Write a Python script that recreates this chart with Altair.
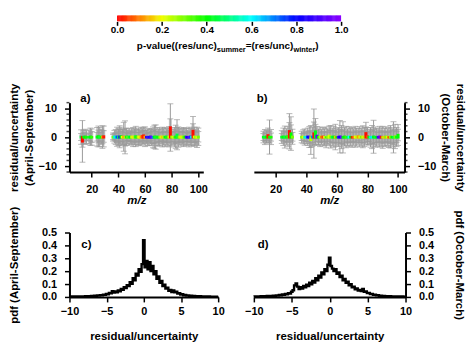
import altair as alt
import numpy as np
import pandas as pd

FONT = "Liberation Sans"

# ---------------- colour scale / colour bar ----------------
P_STOPS = [0.0, 0.1, 0.2, 0.4, 0.6, 0.8, 1.0]
P_COLORS = ["#ff0000", "#ff8000", "#f0ff00", "#00ff00", "#00ffff", "#0000ff", "#8c00ff"]
CB_TICKS = [0.0, 0.2, 0.4, 0.6, 0.8, 1.0]

MZ_TICKS = [20, 40, 60, 80, 100]
RES_TICKS = [-10, 0, 10]
RES_MINOR = [-12, -8, -6, -4, -2, 2, 4, 6, 8, 12]
PDF_X_TICKS = [-10, -5, 0, 5, 10]
PDF_Y_TICKS = [0.0, 0.1, 0.2, 0.3, 0.4, 0.5]

# ---------------- panel a (April-September) ----------------
mz_a = [12, 13, 14, 15, 16,
        18, 19, 20, 24, 25, 26, 27, 28, 29,
        36, 37, 38, 39, 40, 41, 42, 43, 44, 45, 46, 47, 48, 49, 50,
        51, 52, 53, 54, 55, 56, 57, 58, 59, 60, 61, 62, 63, 64, 65,
        66, 67, 68, 69, 70, 71, 72, 73, 74, 75, 76, 77, 78, 79, 80,
        81, 82, 83, 84, 85, 86, 87, 88, 89, 90, 91, 92, 93, 94, 95,
        96, 97, 98, 99, 100]
mean_a = [0.1, -1.4, 0.1, 0.2, 0.1,
          0.1, 0.2, 0.1, 0.2, 0.3, 0.1, 0.2, 0.1, 0.3,
          0.1, 0.2, 0.1, 0.2, 0.1, 0.2, 0.3, 0.1, 0.2, 0.0, 0.2, 0.1, 0.2, 0.1, 0.2,
          0.1, 0.2, 0.3, 0.1, 0.2, 0.1, 0.3, 0.4, 0.6, 0.2, 0.1, 0.0, 0.1, 0.2, 0.1,
          0.0, 0.2, 0.1, 0.2, 0.0, 0.1, 0.2, 0.1, 0.2, 0.1, 0.2, 0.1, 0.2, 3.4, 0.2,
          0.1, 0.0, 0.2, 0.9, 0.1, 0.2, 0.1, 0.2, 0.1, 0.2, 0.1, 0.0, 0.1, 0.2, 0.1,
          2.2, 0.2, 0.1, 0.0, 0.2]
p_a = [0.45, 0.01, 0.42, 0.40, 0.38,
       0.44, 0.40, 0.36, 0.42, 0.40, 0.46, 0.38, 0.12, 0.02,
       0.30, 0.55, 0.62, 0.75, 0.45, 0.85, 0.40, 0.20, 0.12, 0.25, 0.42, 0.30, 0.45, 0.40, 0.22,
       0.18, 0.26, 0.42, 0.35, 0.24, 0.20, 0.12, 0.05, 0.01, 0.15, 0.85, 0.92, 0.78, 0.88, 0.95,
       0.70, 0.40, 0.45, 0.38, 0.42, 0.30, 0.22, 0.15, 0.25, 0.40, 0.44, 0.36, 0.20, 0.01, 0.28,
       0.22, 0.30, 0.40, 0.45, 0.35, 0.25, 0.18, 0.24, 0.30, 0.40, 0.90, 0.82, 0.95, 0.75, 0.60,
       0.01, 0.22, 0.28, 0.20, 0.30]
err_a = [2.5, 7.2, 2.4, 2.6, 2.2,
         2.4, 3.0, 2.8, 3.2, 3.6, 3.3, 2.6, 3.9, 3.6,
         1.4, 2.2, 2.6, 3.3, 2.9, 3.8, 3.2, 2.7, 5.0, 5.7, 3.0, 2.4, 2.9, 2.2, 2.7,
         3.3, 2.8, 3.5, 2.6, 3.0, 2.5, 3.2, 2.7, 2.9, 3.4, 2.3, 2.8, 3.0, 2.5, 2.9,
         3.6, 4.0, 4.2, 3.2, 2.8, 3.1, 2.5, 3.4, 2.9, 3.3, 2.7, 3.0, 3.5, 8.2, 3.1,
         2.6, 3.3, 4.0, 5.2, 3.5, 2.8, 3.1, 2.6, 3.3, 2.9, 3.0, 2.5, 3.4, 2.8, 3.1,
         5.0, 3.3, 2.7, 3.5, 3.0]
inner_a = [1.2, 2.0, 1.5, 1.3, 1.0,
           1.2, 1.6, 1.9, 1.5, 2.2, 1.7, 1.4, 2.3, 2.0,
           0.9, 1.2, 1.5, 2.0, 1.3, 2.5, 1.8, 1.7, 2.6, 3.0, 1.5, 1.2, 1.8, 1.4, 1.6,
           2.0, 1.5, 2.2, 1.6, 1.5, 1.7, 2.0, 1.6, 1.8, 2.1, 1.3, 1.6, 1.8, 1.4, 2.0,
           2.2, 2.4, 2.0, 1.9, 1.5, 1.7, 1.4, 2.1, 1.6, 1.9, 1.5, 1.8, 2.2, 3.0, 1.8,
           1.6, 2.0, 2.3, 2.5, 2.0, 1.6, 1.9, 1.5, 2.1, 1.7, 1.6, 1.4, 2.0, 1.5, 1.8,
           2.5, 2.0, 1.6, 2.3, 1.8]

# ---------------- panel b (October-March) ----------------
mz_b = [12, 13, 14, 15, 16, 17,
        24, 25, 26, 27, 28, 29, 30, 31,
        37, 38, 39, 40, 41, 42, 43, 44, 45, 46, 47, 48, 49, 50,
        51, 52, 53, 54, 55, 56, 57, 58, 59, 60, 61, 62, 63, 64, 65,
        66, 67, 68, 69, 70, 71, 72, 73, 74, 75, 76, 77, 78, 79, 80,
        81, 82, 83, 84, 85, 86, 87, 88, 89, 90, 91, 92, 93, 94, 95,
        96, 97, 98, 99, 100]
mean_b = [0.1, 0.1, 0.2, 0.7, 0.1, 0.1,
          0.1, 0.2, 0.1, 0.2, 0.3, 2.1, 1.3, 0.2,
          0.1, 0.2, 0.1, 0.0, 0.2, 0.1, -0.9, 0.2, 1.3, 2.0, 0.5, 0.1, 0.2, 0.1,
          0.2, 0.1, 0.0, 0.2, 0.5, 0.2, 0.1, 0.2, 0.1, 0.0, 0.1, 0.2, 0.1, 0.0, 0.2,
          0.1, 0.0, 0.2, 0.1, 0.0, 0.1, 0.2, 0.1, 0.3, 0.2, 0.1, 0.2, 0.1, 1.4, 0.3,
          0.1, 0.0, 0.1, 0.2, 0.1, 0.0, 0.1, 0.2, 0.1, 0.0, 0.1, 0.2, 0.1, 0.0, 0.2,
          0.1, 0.0, 0.3, 0.1, 0.8]
p_b = [0.42, 0.45, 0.40, 0.02, 0.40, 0.38,
       0.44, 0.40, 0.46, 0.42, 0.35, 0.01, 0.40, 0.30,
       0.30, 0.22, 0.55, 0.62, 0.80, 0.85, 0.25, 0.70, 0.01, 0.42, 0.95, 0.40, 0.25, 0.10,
       0.05, 0.20, 0.35, 0.28, 0.22, 0.30, 0.45, 0.40, 0.15, 0.40, 0.90, 0.80, 0.95, 0.42, 0.40,
       0.35, 0.45, 0.60, 0.40, 0.02, 0.08, 0.20, 0.25, 0.12, 0.22, 0.30, 0.18, 0.26, 0.01, 0.05,
       0.42, 0.55, 0.62, 0.40, 0.45, 0.40, 0.90, 0.95, 0.02, 0.25, 0.15, 0.30, 0.22, 0.05, 0.28,
       0.40, 0.45, 0.30, 0.42, 0.40]
err_b = [2.0, 2.6, 2.2, 2.5, 5.9, 2.6,
         2.2, 3.0, 3.8, 2.8, 3.4, 6.1, 5.8, 2.6,
         2.0, 2.4, 2.8, 2.2, 3.0, 3.6, 5.0, 3.3, 8.5, 4.5, 3.2, 2.8, 3.4, 2.6,
         3.2, 2.9, 3.6, 2.7, 3.4, 3.9, 3.1, 3.6, 4.4, 3.0, 3.3, 5.6, 4.0, 5.4, 3.2,
         3.7, 2.9, 3.5, 3.0, 3.4, 2.8, 3.6, 3.1, 2.7, 3.5, 3.0, 3.8, 3.3, 3.8, 3.0,
         2.6, 3.4, 4.0, 5.7, 3.5, 3.1, 2.8, 3.6, 3.2, 3.8, 3.0, 3.4, 2.9, 3.5, 3.9,
         3.2, 5.4, 4.2, 3.3, 3.6]
inner_b = [1.2, 1.5, 1.3, 1.5, 2.0, 1.4,
           1.2, 1.7, 2.0, 1.6, 2.0, 3.0, 3.0, 1.5,
           1.2, 1.3, 1.6, 1.4, 1.8, 2.2, 2.6, 2.0, 4.0, 2.5, 2.0, 1.6, 2.0, 1.4,
           1.8, 1.7, 2.1, 1.5, 2.0, 2.2, 1.8, 2.0, 2.4, 1.7, 1.9, 2.5, 2.2, 2.6, 1.8,
           2.1, 1.6, 2.0, 1.7, 1.9, 1.5, 2.1, 1.8, 1.5, 2.0, 1.8, 2.2, 1.9, 2.2, 1.8,
           1.5, 2.0, 2.3, 2.6, 2.0, 1.8, 1.6, 2.1, 1.8, 2.2, 1.7, 2.0, 1.6, 2.0, 2.3,
           1.8, 2.5, 2.3, 1.9, 2.0]

# ---------------- panels c, d: pdf of residual/uncertainty ----------------
pdf_x = [round(v, 1) for v in np.linspace(-10, 10, 101)]
pdf_c = [0.002, 0.003, 0.002, 0.003, 0.002, 0.003, 0.002, 0.004, 0.003, 0.004,
         0.003, 0.005, 0.004, 0.006, 0.005, 0.007, 0.006, 0.009, 0.008, 0.011,
         0.010, 0.014, 0.012, 0.018, 0.016, 0.024, 0.020, 0.032, 0.028, 0.045,
         0.034, 0.042, 0.036, 0.050, 0.044, 0.062, 0.055, 0.075, 0.068, 0.092,
         0.085, 0.115, 0.102, 0.145, 0.130, 0.180, 0.165, 0.215, 0.195, 0.255,
         0.440, 0.230, 0.280, 0.215, 0.270, 0.200, 0.240, 0.175, 0.200, 0.140,
         0.160, 0.110, 0.125, 0.085, 0.095, 0.065, 0.072, 0.048, 0.055, 0.038,
         0.050, 0.035, 0.040, 0.026, 0.030, 0.018, 0.022, 0.013, 0.016, 0.010,
         0.012, 0.008, 0.009, 0.006, 0.007, 0.005, 0.006, 0.004, 0.005, 0.003,
         0.004, 0.003, 0.003, 0.002, 0.003, 0.002, 0.002, 0.002, 0.002, 0.001,
         0.002]
pdf_d = [0.003, 0.004, 0.003, 0.004, 0.004, 0.005, 0.004, 0.006, 0.005, 0.007,
         0.006, 0.008, 0.007, 0.010, 0.009, 0.012, 0.011, 0.015, 0.013, 0.019,
         0.017, 0.024, 0.021, 0.030, 0.027, 0.040, 0.052, 0.090, 0.105, 0.080,
         0.062, 0.075, 0.065, 0.085, 0.075, 0.095, 0.085, 0.110, 0.098, 0.125,
         0.112, 0.145, 0.130, 0.165, 0.150, 0.190, 0.175, 0.215, 0.200, 0.250,
         0.305, 0.240, 0.220, 0.200, 0.215, 0.180, 0.190, 0.155, 0.165, 0.130,
         0.140, 0.110, 0.118, 0.090, 0.098, 0.075, 0.080, 0.060, 0.066, 0.050,
         0.055, 0.045, 0.062, 0.040, 0.042, 0.030, 0.032, 0.022, 0.024, 0.016,
         0.018, 0.012, 0.013, 0.009, 0.010, 0.007, 0.008, 0.006, 0.006, 0.005,
         0.005, 0.004, 0.004, 0.003, 0.004, 0.003, 0.003, 0.002, 0.003, 0.002,
         0.002]

pscale = alt.Scale(domain=P_STOPS, range=P_COLORS, interpolate="rgb")
RES_H = 70
PDF_H = 65


def res_frame(mz, mean, p, err, inner):
    df = pd.DataFrame({"mz": mz, "mean": mean, "p": p, "err": err, "inner": inner})
    df["lo"] = df["mean"] - df["err"]
    df["hi"] = df["mean"] + df["err"]
    df["lo2"] = df["mean"] - df["inner"]
    df["hi2"] = df["mean"] + df["inner"]
    df["b0"] = np.minimum(df["mean"], 0) - 0.4
    df["b1"] = np.maximum(df["mean"], 0) + 0.4
    return df


def tag_layer(tag, tx, ty):
    return alt.Chart(pd.DataFrame({"t": [tag]})).mark_text(
        align="left", baseline="middle", font=FONT, fontWeight="bold",
        fontSize=11.5, color="black").encode(text="t:N", x=alt.value(tx), y=alt.value(ty))


def res_panel(df, xdom, width, orient, title, tag, tx):
    x = alt.X("mz:Q", scale=alt.Scale(domain=xdom, nice=False, zero=False),
              axis=alt.Axis(values=MZ_TICKS, title="m/z", titleFontStyle="italic",
                            labelPadding=7, titlePadding=0, labelOverlap=False))
    ys = alt.Scale(domain=[-12, 12], nice=False, zero=False)
    yaxis = alt.Axis(orient=orient, values=RES_TICKS, title=title, titlePadding=4,
                     titleLineHeight=15, labelPadding=8, labelOverlap=False,
                     labelBound=False)
    y = lambda f: alt.Y(f, scale=ys, axis=yaxis)
    base = alt.Chart(df)
    box = base.mark_bar(color="#c4c4c4", size=3).encode(x=x, y=y("lo2:Q"), y2="hi2:Q")
    whisk = base.mark_rule(color="#9a9a9a", strokeWidth=1).encode(x=x, y=y("lo:Q"), y2="hi:Q")
    caps = base.transform_fold(["lo", "hi", "lo2", "hi2"], as_=["k", "v"]).mark_tick(
        orient="horizontal", size=6, thickness=1, color="#9a9a9a").encode(x=x, y=y("v:Q"))
    bars = base.mark_bar(size=3).encode(
        x=x, y=y("b0:Q"), y2="b1:Q",
        color=alt.Color("p:Q", scale=pscale, legend=None))
    mx = -1.5 if orient == "left" else width + 1.5
    minor = alt.Chart(pd.DataFrame({"v": RES_MINOR})).mark_tick(
        orient="horizontal", size=3, thickness=1.5, color="black").encode(
        x=alt.value(mx), y=y("v:Q"))
    return alt.layer(box, whisk, caps, bars, minor, tag_layer(tag, tx, -4)).properties(
        width=width, height=RES_H)


def pdf_panel(vals, width, orient, title, tpad, tag, tx):
    df = pd.DataFrame({"x": pdf_x, "pdf": vals})
    line = alt.Chart(df).mark_line(interpolate="step", color="black", strokeWidth=2.4).encode(
        x=alt.X("x:Q", scale=alt.Scale(domain=[-10, 10], nice=False),
                axis=alt.Axis(values=PDF_X_TICKS, title="residual/uncertainty",
                              labelPadding=4, titlePadding=14, labelOverlap=False)),
        y=alt.Y("pdf:Q", scale=alt.Scale(domain=[0, 0.5], nice=False),
                axis=alt.Axis(orient=orient, values=PDF_Y_TICKS, format=".1f", title=title,
                              titlePadding=tpad, labelPadding=8, labelOverlap=False)))
    return alt.layer(line, tag_layer(tag, tx, 13)).properties(width=width, height=PDF_H)


# ---------------- colour bar ----------------
CB_H = 27
BAR_H = 6
cb_v0 = np.round(np.arange(0, 1.0, 0.005), 4)
cb_df = pd.DataFrame({"v0": cb_v0, "v1": np.minimum(cb_v0 + 0.007, 1.0), "vm": cb_v0 + 0.0025})
cb_x = alt.X("v0:Q", scale=alt.Scale(domain=[0, 1], range=[48, 274], nice=False, zero=False),
             axis=alt.Axis(values=CB_TICKS, format=".1f", domain=False, title=None,
                           labelPadding=-1, labelFontSize=10, tickSize=4,
                           offset=-(CB_H - BAR_H), labelOverlap=False))
cb_rect = alt.Chart(cb_df).mark_rect().encode(
    x=cb_x, x2="v1:Q", y=alt.value(0), y2=alt.value(BAR_H),
    color=alt.Color("vm:Q", scale=pscale, legend=None))

title_parts = [("p-value((res/unc)", 10, 68.0, 34.0),
               ("summer", 7.5, 148.6, 36.5),
               ("=(res/unc)", 10, 177.8, 34.0),
               ("winter", 7.5, 225.9, 36.5),
               (")", 10, 248.0, 34.0)]
title_layers = [
    alt.Chart(pd.DataFrame({"t": [t]})).mark_text(
        align="left", baseline="alphabetic", font=FONT, fontWeight="bold",
        fontSize=fs, color="black").encode(text="t:N", x=alt.value(px), y=alt.value(py))
    for t, fs, px, py in title_parts
]
colorbar = alt.layer(cb_rect, *title_layers).properties(width=150, height=CB_H)

spacer = alt.Chart(pd.DataFrame({"t": [""]})).mark_text().encode(
    text="t:N", x=alt.value(0), y=alt.value(0)).properties(width=152, height=CB_H)

# ---------------- panels ----------------
pa = res_panel(res_frame(mz_a, mean_a, p_a, err_a, inner_a), [7, 100], 135, "left",
               ["residual/uncertainty", "(April-September)"], "a)", 11)
pb = res_panel(res_frame(mz_b, mean_b, p_b, err_b, inner_b), [9, 101], 152, "right",
               ["residual/uncertainty", "(October-March)"], "b)", 3)
pc = pdf_panel(pdf_c, 150, "left", "pdf (April-September)", 22, "c)", 12)
pd_ = pdf_panel(pdf_d, 153, "right", "pdf (October-March)", 20, "d)", 4)

chart = alt.concat(colorbar, spacer, pa, pb, pc, pd_, columns=2,
                   spacing={"row": 61, "column": 36}, bounds="flush").properties(
    padding=0
).configure_view(stroke=None).configure_axis(
    labelFont=FONT, titleFont=FONT, labelFontWeight="bold", titleFontWeight="bold",
    labelFontSize=11, titleFontSize=11.5, labelColor="black", titleColor="black",
    domainColor="black", tickColor="black", domainWidth=2, tickWidth=1.5, tickSize=5,
    grid=False, labelFlush=False
)

chart.save("out.html", embed_options={"renderer": "svg", "actions": False})
